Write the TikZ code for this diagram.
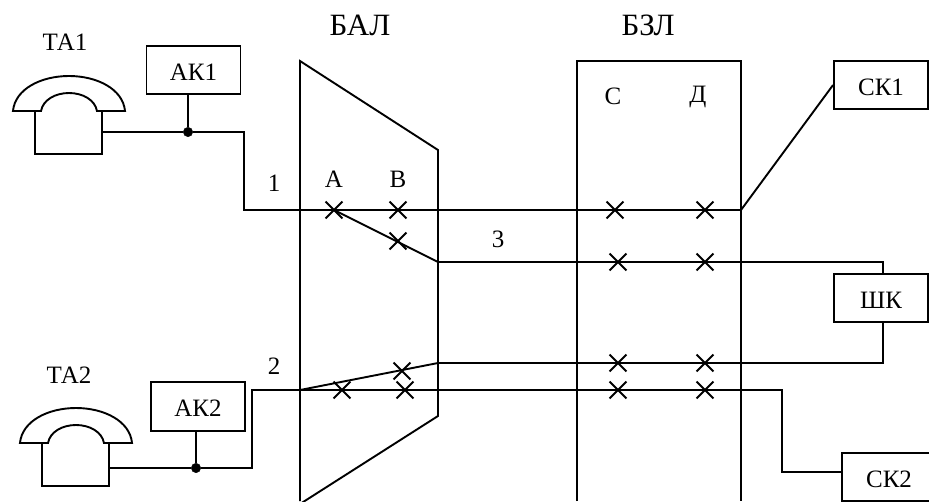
\documentclass[tikz,border=0pt]{standalone}
\usepackage{fontspec}
\setmainfont{Liberation Serif}
\usetikzlibrary{positioning}
\usetikzlibrary{shapes.misc}
\tikzset{
  wire/.style={line width=1.9pt},
  blockbox/.style={draw, rectangle, line width=1.9pt, minimum width=94pt, minimum height=48pt, inner sep=0pt, text height=20.5pt, text depth=0pt, font=\fontsize{25}{28}\selectfont},
  label/.style={inner sep=0pt, font=\fontsize{25}{28}\selectfont},
  title/.style={inner sep=0pt, font=\fontsize{31}{34}\selectfont},
  crossmark/.style={draw, cross out, line width=1.8pt, minimum size=15pt, inner sep=0pt},
  dotmark/.style={draw, circle, fill=black, minimum size=9.5pt, inner sep=0pt},
  handset/.pic={
    \draw [wire] (-56,0) .. controls (-54,-22) and (-28,-35) .. (0,-35) .. controls (28,-35) and (54,-22) .. (56,0) -- (28,0)
      .. controls (26,-11) and (14,-18) .. (0,-18) .. controls (-14,-18) and (-26,-11) .. (-28,0) -- cycle;
    \draw [wire] (-34,0) -- (-34,43) -- (33,43) -- (33,0);
  }
}
\begin{document}
\begin{tikzpicture}[x=1pt, y=-1pt]
    \useasboundingbox (0,0) rectangle (929,501);
    % Blocks
    \begin{scope}
      \clip (0,0) rectangle (929,501);
      \node [blockbox] (ak1) at (193.5,70) {АК1};
      \node [blockbox, minimum height=49pt] (ak2) at (198,406.5) {АК2};
      \node [blockbox] (sk1) at (881,85) {СК1};
      \node [blockbox] (shk) at (881,298) {ШК};
      \node [blockbox] (sk2) at (889,477) {СК2};
      \draw [wire] (300,501) -- (300,61) -- (438,150) -- (438,416) -- (300,504);
      \draw [wire] (577,501) -- (577,61) -- (741,61) -- (741,501);
    \end{scope}
    % Telephones
    \pic at (69,111) {handset};
    \pic at (76,443) {handset};
    % Labels
    \node [label] (ta1) at (65,42) {ТА1};
    \node [label] (ta2) at (69,375) {ТА2};
    \node [title] (bal) at (360,25) {БАЛ};
    \node [title] (bzl) at (648,25) {БЗЛ};
    \node [label] (na) at (334,179) {А};
    \node [label] (nb) at (398,179) {В};
    \node [label] (nc) at (613,96) {С};
    \node [label] (nd) at (698,97) {Д};
    \node [label] (n1) at (274,183) {1};
    \node [label] (n2) at (274,366) {2};
    \node [label] (n3) at (498,239) {3};
    % Points on the lines
    \coordinate (p1) at (102,132);
    \coordinate (p2) at (244,132);
    \coordinate (p3) at (244,210);
    \coordinate (p4) at (741,210);
    \coordinate (q1) at (438,262);
    \coordinate (q2) at (883,262);
    \coordinate (r1) at (883,363);
    \coordinate (r2) at (438,363);
    \coordinate (r3) at (300,390);
    \coordinate (s1) at (110,468);
    \coordinate (s2) at (252,468);
    \coordinate (s3) at (252,390);
    \coordinate (s4) at (782,390);
    \coordinate (s5) at (782,472);
    \node [dotmark] (dot1) at (188,132) {};
    \node [dotmark] (dot2) at (196,468) {};
    \foreach \name/\x/\y in {xa/334/210, xb/398/210, xd/398/241, xe/615/210, xf/705/210,
        xg/618/262, xh/705/262, xi/618/363, xj/705/363, xk/618/390, xl/705/390,
        xm/342/390, xn/405/390, xo/402/371}
      \node [crossmark] (\name) at (\x,\y) {};
    % Lines
    \draw [wire] (p1) -- (dot1) -- (p2) -- (p3) -- (p4);
    \draw [wire] (ak1.south -| dot1) -- (dot1);
    \draw [wire] (p4) -- (sk1.west);
    \draw [wire] (xa.center) -- (q1) -- (q2) -- (shk.north -| q2);
    \draw [wire] (shk.south -| r1) -- (r1) -- (r2) -- (r3);
    \draw [wire] (s1) -- (dot2) -- (s2) -- (s3) -- (s4) -- (s5) -- (sk2.west |- s5);
    \draw [wire] (ak2.south -| dot2) -- (dot2);
  \end{tikzpicture}
\end{document}
